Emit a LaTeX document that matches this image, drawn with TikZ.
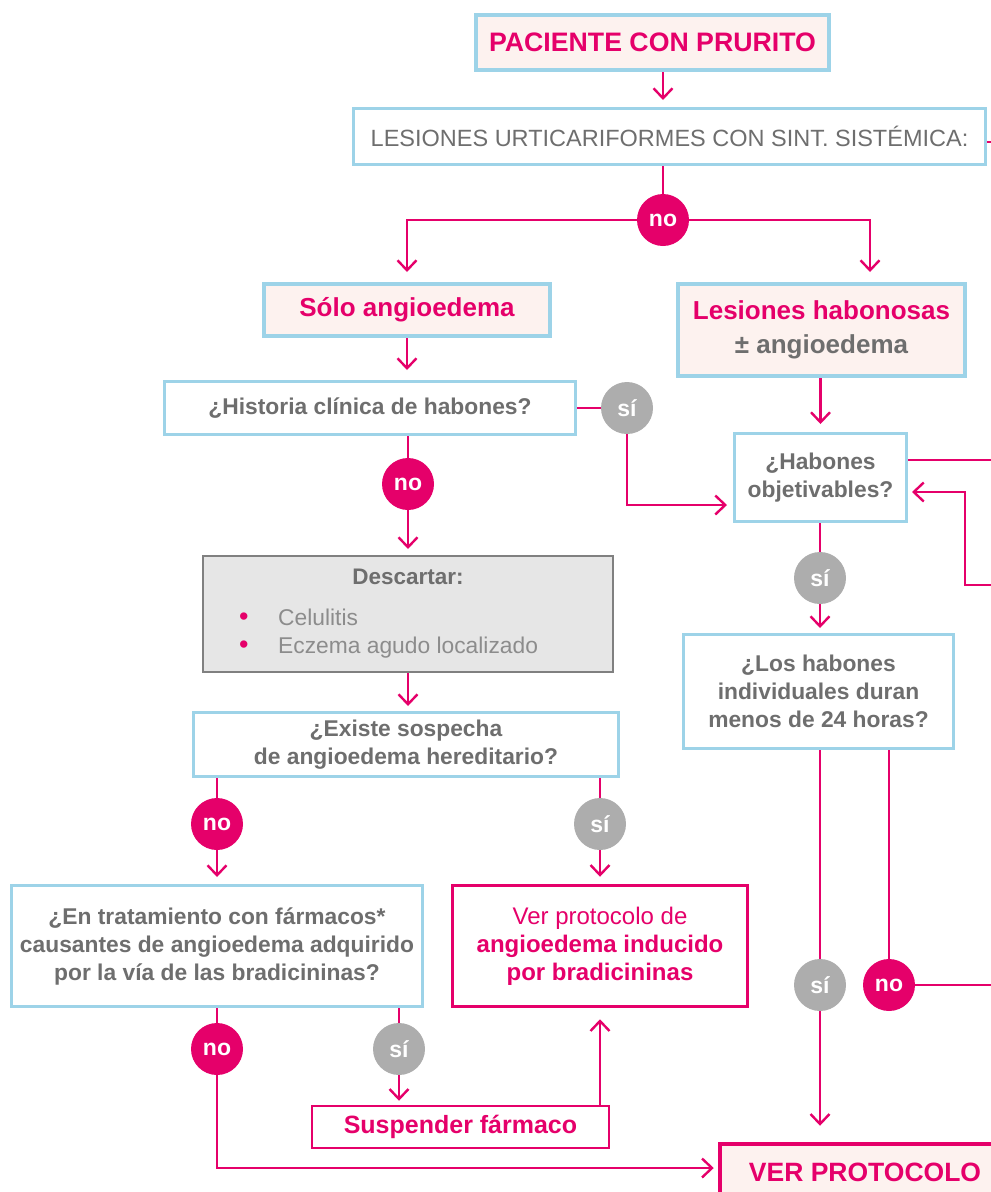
\documentclass[tikz,border=0pt]{standalone}
\usepackage{fontspec}
\setmainfont{Liberation Sans}
\usetikzlibrary{arrows.meta}
\definecolor{rosa}{HTML}{E5006A}
\definecolor{celeste}{HTML}{9DD3E8}
\definecolor{rosaclaro}{HTML}{FDF2EF}
\definecolor{grisc}{HTML}{ADADAD}
\definecolor{gristxt}{HTML}{6E6E6E}
\definecolor{grislista}{HTML}{8C8C8C}
\definecolor{grisfondo}{HTML}{E6E6E6}
\definecolor{grisborde}{HTML}{808080}
\newcommand{\vineta}{\makebox[39pt][l]{\textcolor{rosa}{\fontsize{27}{28}\selectfont\textbullet}}}
\tikzset{
  inicio/.style={draw=celeste, line width=4pt, fill=rosaclaro, text=rosa, align=center,
    font=\fontsize{26}{34}\selectfont\bfseries, inner sep=0pt},
  pregunta/.style={draw=celeste, line width=3pt, fill=white, text=gristxt, align=center,
    font=\fontsize{22.8}{28}\selectfont\bfseries, inner sep=0pt},
  final/.style={draw=rosa, line width=3.5pt, fill=white, text=rosa, align=center, inner sep=0pt},
  sino/.style={circle, minimum size=52pt, inner sep=0pt, text=white,
    font=\fontsize{23}{23}\selectfont\bfseries},
  resno/.style={sino, fill=rosa},
  ressi/.style={sino, fill=grisc},
  linea/.style={draw=rosa, line width=2.4pt},
  flecha/.style={linea, -{Straight Barb[length=10pt,width=19pt]}},
}
\begin{document}
\begin{tikzpicture}[x=1pt,y=-1pt]
\useasboundingbox (0,0) rectangle (991,1192);
\clip (0,0) rectangle (991,1192);
% cajas
\node[inicio, font=\fontsize{26.7}{34}\selectfont\bfseries, minimum width=353pt, minimum height=55pt] (pac) at (652.5,42.5) {PACIENTE CON PRURITO};
\node[pregunta, font=\fontsize{23.5}{28}\selectfont, minimum width=632pt, minimum height=56pt] (les) at (669.5,136.5)
  {LESIONES URTICARIFORMES CON SINT. SISTÉMICA:};
\node[inicio, minimum width=286pt, minimum height=52pt] (solo) at (407,310) {Sólo angioedema};
\node[inicio, minimum width=287pt, minimum height=92pt] (lesh) at (821.5,330)
  {Lesiones habonosas\\\textcolor{gristxt}{± angioedema}};
\node[pregunta, minimum width=411pt, minimum height=53pt] (hist) at (370,408) {¿Historia clínica de habones?};
\node[pregunta, minimum width=172pt, minimum height=88pt] (habobj) at (820.5,477.5) {¿Habones\\objetivables?};
\node[draw=grisborde, line width=2pt, fill=grisfondo, minimum width=410pt, minimum height=116pt] (desc) at (408,614) {};
\node[text=gristxt, font=\fontsize{22.5}{28}\selectfont\bfseries] (desctit) at (408,577) {Descartar:};
\node[anchor=west, inner sep=0pt, align=left, text=grislista, font=\fontsize{22.8}{28}\selectfont] (desclista) at (239,634)
  {\vineta Celulitis\\
   \vineta Eczema agudo localizado};
\node[pregunta, minimum width=425pt, minimum height=64pt] (exi) at (406,744.5) {¿Existe sospecha\\de angioedema hereditario?};
\node[pregunta, minimum width=270pt, minimum height=114pt] (loshab) at (818.5,691.5)
  {¿Los habones\\individuales duran\\menos de 24 horas?};
\node[pregunta, minimum width=411pt, minimum height=121pt] (trat) at (217,946)
  {¿En tratamiento con fármacos*\\causantes de angioedema adquirido\\por la vía de las bradicininas?};
\node[final, font=\fontsize{24}{28}\selectfont, minimum width=295pt, minimum height=121pt] (verbrad) at (600,946)
  {Ver protocolo de\\\textbf{angioedema inducido}\\\textbf{por bradicininas}};
\node[final, line width=2.5pt, font=\fontsize{25}{30}\selectfont\bfseries, minimum width=297pt, minimum height=42pt] (susp) at (460.5,1127)
  {Suspender fármaco};
\node[final, line width=4.5pt, fill=rosaclaro, font=\fontsize{26.5}{30}\selectfont\bfseries, minimum width=290pt, minimum height=56pt] (verp) at (865,1172)
  {VER PROTOCOLO};
% respuestas
\node[resno] (no1) at (663,220) {no};
\node[ressi] (si1) at (627,408) {sí};
\node[resno] (no2) at (408,484) {no};
\node[ressi] (si2) at (820,578) {sí};
\node[resno] (no3) at (217,824) {no};
\node[ressi] (si3) at (600,824) {sí};
\node[resno] (no4) at (217,1049) {no};
\node[ressi] (si4) at (399,1049) {sí};
\node[ressi] (si5) at (820,985) {sí};
\node[resno] (no5) at (889,985) {no};
% bordes derechos
\coordinate (borde0) at (991,142);
\coordinate (borde1) at (991,460);
\coordinate (borde2) at (991,585);
\coordinate (giro) at (965,492);
\coordinate (borde3) at (991,985);
% conexiones
\draw[flecha, shorten >=7pt] (pac.south -| no1) -- (les.north -| no1);
\draw[linea] (les.east |- borde0) -- (borde0);
\draw[linea] (les.south -| no1) -- (no1);
\draw[flecha, shorten >=10pt] (no1) -| (solo.north);
\draw[flecha, shorten >=10pt] (no1) -| ([xshift=48.5pt]lesh.north);
\draw[flecha, shorten >=10pt] (solo.south) -- (solo.south |- hist.north);
\draw[flecha, shorten >=8pt] (lesh.south -| habobj.north) -- (habobj.north);
\draw[linea] (hist.east) -- (si1);
\draw[flecha, shorten >=6pt] (si1) |- ([yshift=-27.5pt]habobj.west);
\draw[linea] (habobj.east |- borde1) -- (borde1);
\draw[flecha, shorten >=4pt] (borde2) -| (giro) -- (habobj.east |- giro);
\draw[linea] (hist.south -| no2) -- (no2);
\draw[flecha, shorten >=6pt] (no2) -- (desc.north -| no2);
\draw[flecha, shorten >=5pt] (desc.south) -- (desc.south |- exi.north);
\draw[linea] (habobj.south -| si2) -- (si2);
\draw[flecha, shorten >=5pt] (si2) -- (loshab.north -| si2);
\draw[linea] (exi.south -| no3) -- (no3);
\draw[flecha, shorten >=7pt] (no3) -- (trat.north -| no3);
\draw[linea] (exi.south -| si3) -- (si3);
\draw[flecha, shorten >=7pt] (si3) -- (verbrad.north -| si3);
\draw[linea] (trat.south -| no4) -- (no4);
\draw[flecha, shorten >=4pt] (no4) |- ([yshift=4pt]verp.west);
\draw[linea] (trat.south -| si4) -- (si4);
\draw[flecha, shorten >=4pt] (si4) -- (susp.north -| si4);
\draw[flecha, shorten >=11pt] (susp.north -| verbrad) -- (verbrad.south);
\draw[linea] (loshab.south -| si5) -- (si5);
\draw[flecha, shorten >=16pt] (si5) -- (verp.north -| si5);
\draw[linea] (loshab.south -| no5) -- (no5);
\draw[linea] (no5) -- (borde3);
\end{tikzpicture}
\end{document}
